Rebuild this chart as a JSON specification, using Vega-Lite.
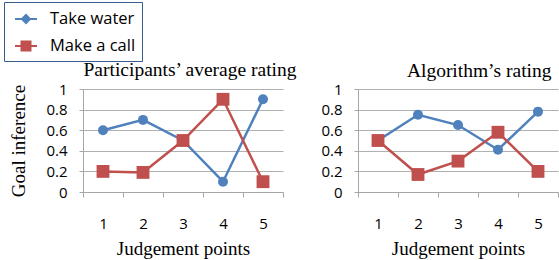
{
  "$schema": "https://vega.github.io/schema/vega-lite/v6.json",
  "autosize": {"type": "none"},
  "padding": {"left": 83, "top": 89, "right": 476, "bottom": 171},
  "background": "white",
  "spacing": 22,
  "data": {"values": [
    {"panel": "P", "point": "1", "series": "Take water", "value": 0.6},
    {"panel": "P", "point": "2", "series": "Take water", "value": 0.7},
    {"panel": "P", "point": "3", "series": "Take water", "value": 0.5},
    {"panel": "P", "point": "4", "series": "Take water", "value": 0.1},
    {"panel": "P", "point": "5", "series": "Take water", "value": 0.9},
    {"panel": "P", "point": "1", "series": "Make a call", "value": 0.2},
    {"panel": "P", "point": "2", "series": "Make a call", "value": 0.19},
    {"panel": "P", "point": "3", "series": "Make a call", "value": 0.5},
    {"panel": "P", "point": "4", "series": "Make a call", "value": 0.9},
    {"panel": "P", "point": "5", "series": "Make a call", "value": 0.1},
    {"panel": "A", "point": "1", "series": "Take water", "value": 0.5},
    {"panel": "A", "point": "2", "series": "Take water", "value": 0.75},
    {"panel": "A", "point": "3", "series": "Take water", "value": 0.65},
    {"panel": "A", "point": "4", "series": "Take water", "value": 0.41},
    {"panel": "A", "point": "5", "series": "Take water", "value": 0.78},
    {"panel": "A", "point": "1", "series": "Make a call", "value": 0.5},
    {"panel": "A", "point": "2", "series": "Make a call", "value": 0.17},
    {"panel": "A", "point": "3", "series": "Make a call", "value": 0.3},
    {"panel": "A", "point": "4", "series": "Make a call", "value": 0.58},
    {"panel": "A", "point": "5", "series": "Make a call", "value": 0.2}
  ]},
  "config": {
    "view": {"stroke": null},
    "axis": {"labelFont": "Open Sans", "labelFontSize": 15, "labelColor": "#000", "titleFont": "Liberation Serif", "titleFontSize": 19, "titleFontWeight": "normal", "titleColor": "#000", "domainColor": "#a6a6a6", "tickColor": "#a6a6a6", "gridColor": "#b0b0b0"},
    "title": {"font": "Liberation Serif", "fontSize": 19.5, "fontWeight": "normal", "color": "#000"},
    "legend": {"labelFont": "Open Sans", "labelFontSize": 16.5, "labelColor": "#000"}
  },
  "hconcat": [
    {
      "width": 200,
      "height": 103,
      "title": {"text": "Participants’ average rating", "offset": 1, "dx": 7},
      "transform": [{"filter": "datum.panel === 'P'"}],
      "encoding": {
        "x": {"field": "point", "type": "ordinal", "scale": {"paddingInner": 0, "paddingOuter": 0}, "axis": {"labelAngle": 0, "title": "Judgement points", "tickBand": "extent", "tickSize": 5, "labelPadding": 19, "titlePadding": 8, "grid": false}},
        "y": {"field": "value", "type": "quantitative", "scale": {"domain": [0, 1]}, "axis": {"values": [0, 0.2, 0.4, 0.6, 0.8, 1], "format": "~g", "title": "Goal  inference", "tickSize": 4, "labelPadding": 12, "titlePadding": 17}},
        "color": {"field": "series", "type": "nominal", "scale": {"domain": ["Take water", "Make a call"], "range": ["#4f81bd", "#c0504d"]}, "legend": {"title": null, "orient": "none", "legendX": -79, "legendY": -87, "strokeColor": "#385d8a", "padding": 6, "rowPadding": 7, "symbolSize": 100, "labelOffset": 13, "symbolOffset": 5, "symbolStrokeWidth": 2, "encode": {"symbols": {"update": {"shape": {"signal": "datum.value === 'Take water' ? 'M-1.1,0H1.1M0,-0.4L0.4,0L0,0.4L-0.4,0Z' : 'M-1.1,0H1.1M-0.45,-0.45H0.45V0.45H-0.45Z'"}, "stroke": {"signal": "datum.value === 'Take water' ? '#4f81bd' : '#c0504d'"}, "fill": {"signal": "datum.value === 'Take water' ? '#4f81bd' : '#c0504d'"}, "size": {"value": 400}, "strokeWidth": {"value": 2}}}}}}
      },
      "layer": [
        {"mark": {"type": "line", "strokeWidth": 2.5}},
        {"transform": [{"filter": "datum.series === 'Take water'"}], "mark": {"type": "point", "shape": "circle", "filled": true, "opacity": 1, "size": 100}},
        {"transform": [{"filter": "datum.series === 'Make a call'"}], "mark": {"type": "point", "shape": "square", "filled": true, "opacity": 1, "size": 165}}
      ]
    },
    {
      "width": 200,
      "height": 103,
      "title": {"text": "Algorithm’s rating", "offset": 1, "anchor": "end", "dx": -7},
      "transform": [{"filter": "datum.panel === 'A'"}],
      "encoding": {
        "x": {"field": "point", "type": "ordinal", "scale": {"paddingInner": 0, "paddingOuter": 0}, "axis": {"labelAngle": 0, "title": "Judgement points", "tickBand": "extent", "tickSize": 5, "labelPadding": 19, "titlePadding": 8, "grid": false}},
        "y": {"field": "value", "type": "quantitative", "scale": {"domain": [0, 1]}, "axis": {"values": [0, 0.2, 0.4, 0.6, 0.8, 1], "format": "~g", "title": null, "tickSize": 4, "labelPadding": 12}},
        "color": {"field": "series", "type": "nominal", "scale": {"domain": ["Take water", "Make a call"], "range": ["#4f81bd", "#c0504d"]}, "legend": null}
      },
      "layer": [
        {"mark": {"type": "line", "strokeWidth": 2.5}},
        {"transform": [{"filter": "datum.series === 'Take water'"}], "mark": {"type": "point", "shape": "circle", "filled": true, "opacity": 1, "size": 100}},
        {"transform": [{"filter": "datum.series === 'Make a call'"}], "mark": {"type": "point", "shape": "square", "filled": true, "opacity": 1, "size": 165}}
      ]
    }
  ]
}
